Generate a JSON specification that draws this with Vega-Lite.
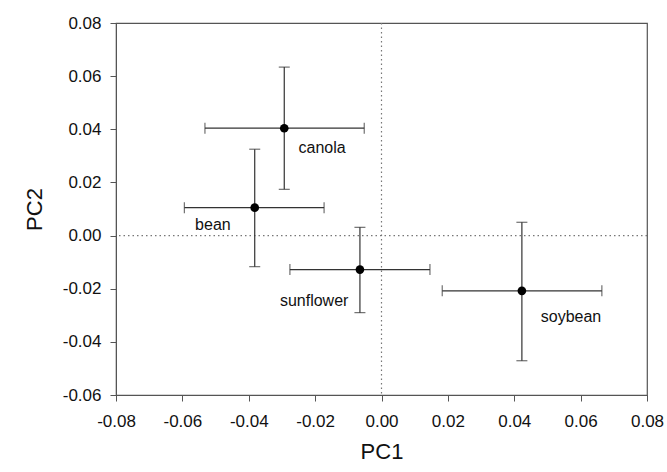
{
  "$schema": "https://vega.github.io/schema/vega-lite/v6.json",
  "width": 531,
  "height": 372,
  "autosize": {"type": "none"},
  "padding": {"left": 116, "top": 23, "right": 20, "bottom": 78},
  "background": "white",
  "config": {
    "view": {"stroke": "#555555", "strokeWidth": 1.2},
    "font": "Liberation Sans",
    "axis": {
      "grid": false,
      "labelFlush": false,
      "labelOverlap": false,
      "domainColor": "#555555",
      "tickColor": "#555555",
      "tickSize": 6,
      "labelFont": "Liberation Sans",
      "labelFontSize": 17,
      "labelColor": "#111111",
      "titleFont": "Liberation Sans",
      "titleFontSize": 22,
      "titleFontWeight": "normal",
      "titleColor": "#111111"
    }
  },
  "data": {
    "values": [
      {"crop": "canola", "pc1": -0.0293, "pc2": 0.0404, "pc1_lo": -0.0532, "pc1_hi": -0.0052, "pc2_lo": 0.0174, "pc2_hi": 0.0634, "label_x": -0.0179, "label_y": 0.0328},
      {"crop": "bean", "pc1": -0.0382, "pc2": 0.0105, "pc1_lo": -0.0594, "pc1_hi": -0.0173, "pc2_lo": -0.0117, "pc2_hi": 0.0325, "label_x": -0.0508, "label_y": 0.0038},
      {"crop": "sunflower", "pc1": -0.0065, "pc2": -0.0128, "pc1_lo": -0.0276, "pc1_hi": 0.0146, "pc2_lo": -0.029, "pc2_hi": 0.0031, "label_x": -0.0203, "label_y": -0.0245},
      {"crop": "soybean", "pc1": 0.0423, "pc2": -0.0208, "pc1_lo": 0.0183, "pc1_hi": 0.0664, "pc2_lo": -0.0471, "pc2_hi": 0.005, "label_x": 0.0571, "label_y": -0.0305}
    ]
  },
  "layer": [
    {
      "data": {"values": [{"zero": 0}]},
      "mark": {"type": "rule", "color": "#777777", "strokeDash": [1.5, 3], "strokeWidth": 1.2},
      "encoding": {
        "x": {"field": "zero", "type": "quantitative", "scale": {"domain": [-0.08, 0.08], "nice": false, "zero": false},
              "axis": {"title": "PC1", "values": [-0.08, -0.06, -0.04, -0.02, 0, 0.02, 0.04, 0.06, 0.08], "labelExpr": "(datum.value < -0.000001 ? '-' : '') + format(abs(datum.value), '.2f')", "labelPadding": 12, "titlePadding": 12}}
      }
    },
    {
      "data": {"values": [{"zero": 0}]},
      "mark": {"type": "rule", "color": "#777777", "strokeDash": [1.5, 3], "strokeWidth": 1.2},
      "encoding": {
        "y": {"field": "zero", "type": "quantitative", "scale": {"domain": [-0.06, 0.08], "nice": false, "zero": false},
              "axis": {"title": "PC2", "values": [-0.06, -0.04, -0.02, 0, 0.02, 0.04, 0.06, 0.08], "labelExpr": "(datum.value < -0.000001 ? '-' : '') + format(abs(datum.value), '.2f')", "labelPadding": 9, "titlePadding": 16}}
      }
    },
    {
      "mark": {"type": "rule", "color": "#333333", "strokeWidth": 1.2},
      "encoding": {
        "x": {"field": "pc1_lo", "type": "quantitative"},
        "x2": {"field": "pc1_hi"},
        "y": {"field": "pc2", "type": "quantitative"}
      }
    },
    {
      "mark": {"type": "rule", "color": "#333333", "strokeWidth": 1.2},
      "encoding": {
        "y": {"field": "pc2_lo", "type": "quantitative"},
        "y2": {"field": "pc2_hi"},
        "x": {"field": "pc1", "type": "quantitative"}
      }
    },
    {
      "mark": {"type": "tick", "orient": "vertical", "color": "#333333", "size": 11, "thickness": 1.2},
      "encoding": {
        "x": {"field": "pc1_lo", "type": "quantitative"},
        "y": {"field": "pc2", "type": "quantitative"}
      }
    },
    {
      "mark": {"type": "tick", "orient": "vertical", "color": "#333333", "size": 11, "thickness": 1.2},
      "encoding": {
        "x": {"field": "pc1_hi", "type": "quantitative"},
        "y": {"field": "pc2", "type": "quantitative"}
      }
    },
    {
      "mark": {"type": "tick", "orient": "horizontal", "color": "#333333", "size": 11, "thickness": 1.2},
      "encoding": {
        "x": {"field": "pc1", "type": "quantitative"},
        "y": {"field": "pc2_lo", "type": "quantitative"}
      }
    },
    {
      "mark": {"type": "tick", "orient": "horizontal", "color": "#333333", "size": 11, "thickness": 1.2},
      "encoding": {
        "x": {"field": "pc1", "type": "quantitative"},
        "y": {"field": "pc2_hi", "type": "quantitative"}
      }
    },
    {
      "mark": {"type": "point", "filled": true, "color": "black", "size": 75, "opacity": 1},
      "encoding": {
        "x": {"field": "pc1", "type": "quantitative"},
        "y": {"field": "pc2", "type": "quantitative"}
      }
    },
    {
      "mark": {"type": "text", "fontSize": 16, "font": "Liberation Sans", "color": "#111111", "align": "center", "baseline": "middle"},
      "encoding": {
        "x": {"field": "label_x", "type": "quantitative"},
        "y": {"field": "label_y", "type": "quantitative"},
        "text": {"field": "crop"}
      }
    }
  ]
}
